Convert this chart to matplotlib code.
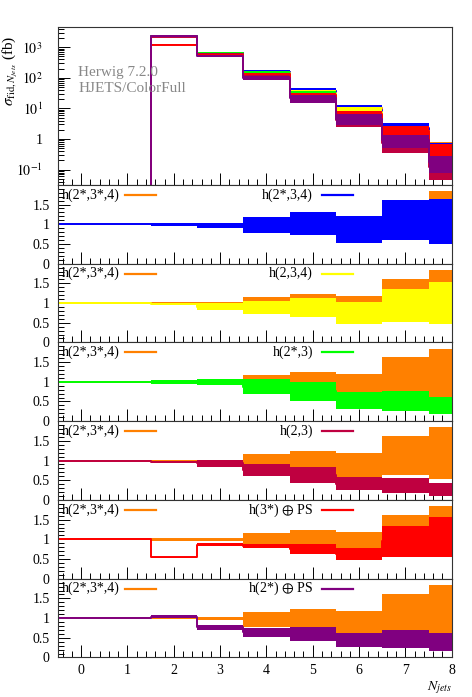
import numpy as np
import matplotlib
matplotlib.use('Agg')
import matplotlib.pyplot as plt
from matplotlib.ticker import MultipleLocator, LogLocator, NullFormatter

plt.rcParams['font.family'] = ['Liberation Serif', 'DejaVu Serif']
plt.rcParams['mathtext.fontset'] = 'stix'

# bin edges in N_jets (last bin is cut by the x range)
edges = [-0.5, 0.5, 1.5, 2.5, 3.5, 4.5, 5.5, 6.5, 7.5, 8.5]
xticks = [0, 1, 2, 3, 4, 5, 6, 7, 8]

# reference prediction h(2*,3*,4), cross section in fb
ref_label = 'h(2*,3*,4)'
ref_color = '#ff8000'
ref_xsec = [0, 0, 2250, 660, 157, 36, 10.5, 2.0, 0.45]
ref_lo = [1, 1, 0.97, 0.95, 0.77, 0.74, 0.56, 0.645, 0.54]
ref_hi = [1, 1, 1.02, 1.02, 1.16, 1.24, 1.19, 1.62, 1.84]

# other predictions, given as ratio bands to the reference
labels = ['h(2*,3,4)', 'h(2,3,4)', 'h(2*,3)', 'h(2,3)',
          r'h(3*) $\oplus$ PS', r'h(2*) $\oplus$ PS']
colors = ['#0000ff', '#ffff00', '#00ff00', '#bf0040', '#ff0000', '#800080']

blue_lo = [1, 1, 0.95, 0.90, 0.79, 0.72, 0.515, 0.60, 0.51]
blue_hi = [1, 1, 1.04, 1.04, 1.18, 1.31, 1.20, 1.62, 1.645]
yellow_lo = [1, 1, 0.94, 0.83, 0.73, 0.64, 0.47, 0.52, 0.47]
yellow_hi = [1, 1, 0.99, 0.99, 1.05, 1.13, 1.03, 1.36, 1.54]
green_lo = [1, 1, 0.95, 0.91, 0.69, 0.52, 0.31, 0.26, 0.17]
green_hi = [1, 1, 1.05, 1.075, 1.065, 1.0, 0.745, 0.77, 0.61]
crimson_lo = [1, 1, 0.93, 0.84, 0.62, 0.44, 0.24, 0.18, 0.10]
crimson_hi = [1, 1, 1.0, 1.015, 0.92, 0.83, 0.585, 0.56, 0.425]
red_lo = [1, 1, 0.52, 0.83, 0.79, 0.635, 0.485, 0.56, 0.56]
red_hi = [1, 1, 0.56, 0.90, 0.89, 0.89, 0.79, 1.33, 1.56]
purple_lo = [1, 1, 0.99, 0.71, 0.53, 0.43, 0.27, 0.25, 0.17]
purple_hi = [1, 1, 1.08, 0.83, 0.755, 0.77, 0.61, 0.70, 0.61]

lows = [blue_lo, yellow_lo, green_lo, crimson_lo, red_lo, purple_lo]
highs = [blue_hi, yellow_hi, green_hi, crimson_hi, red_hi, purple_hi]


def ext(vals):
    # repeat last value so step='post' covers the last bin
    vals = np.asarray(vals, dtype=float)
    return np.append(vals, vals[-1])


def draw_band(ax, lo, hi, mid, color, z, floor=None):
    lo, hi, mid = ext(lo), ext(hi), ext(mid)
    if floor is not None:
        lo = np.maximum(lo, floor)
        hi = np.maximum(hi, floor)
        mid = np.maximum(mid, floor)
    ax.fill_between(edges, lo, hi, step='post', color=color, lw=0, zorder=z)
    ax.step(edges, mid, where='post', color=color, lw=1.4, zorder=z + 0.5)


def style_axis(ax):
    ax.set_xlim(-0.5, 8)
    ax.xaxis.set_major_locator(MultipleLocator(1))
    ax.xaxis.set_minor_locator(MultipleLocator(0.2))
    ax.tick_params(which='both', direction='in', top=False, right=False,
                   width=0.7, labelsize=10)
    ax.tick_params(which='major', length=8.5)
    ax.tick_params(which='minor', length=4)
    for sp in ax.spines.values():
        sp.set_linewidth(0.8)
        sp.set_color('#333333')
        sp.set_zorder(20)


def make_plot():
    fig = plt.figure(figsize=(4.72, 6.97), dpi=100)
    gs = fig.add_gridspec(7, 1, height_ratios=[2, 1, 1, 1, 1, 1, 1], hspace=0,
                          left=0.1229, right=0.957, bottom=0.0567, top=0.9608)
    axes = [fig.add_subplot(gs[0])]
    for i in range(1, 7):
        axes.append(fig.add_subplot(gs[i], sharex=axes[0]))

    ref = np.asarray(ref_xsec, dtype=float)

    # ---------------------------------------------------------
    # main panel: cross sections
    # ---------------------------------------------------------
    ax = axes[0]
    draw_band(ax, ref * np.array(ref_lo), ref * np.array(ref_hi), ref,
              ref_color, 2, floor=1e-6)
    for k, (lo, hi, col) in enumerate(zip(lows, highs, colors)):
        lo = np.array(lo)
        hi = np.array(hi)
        mid = 0.5 * (lo + hi)
        draw_band(ax, ref * lo, ref * hi, ref * mid, col, 3 + k, floor=1e-6)
    ax.set_yscale('log')
    ax.set_ylim(0.032, 4450)
    ax.set_yticks([0.1, 1, 10, 100, 1000])
    ax.set_yticklabels([r'$10^{-1}$', '1', r'$10^{1}$', r'$10^{2}$', r'$10^{3}$'])
    ax.yaxis.set_minor_locator(LogLocator(base=10, subs=range(2, 10), numticks=20))
    ax.yaxis.set_minor_formatter(NullFormatter())
    style_axis(ax)
    ax.tick_params(axis='y', pad=11)
    ax.tick_params(axis='x', labelbottom=False)
    ax.text(0.051, 0.714, 'Herwig 7.2.0', transform=ax.transAxes,
            color='#888888', fontsize=11, va='center', ha='left', zorder=30)
    ax.text(0.051, 0.613, 'HJETS/ColorFull', transform=ax.transAxes,
            color='#888888', fontsize=11, va='center', ha='left', zorder=30)
    fig.text(0.022, 1 - 36 / 697, r'$\sigma_{\mathrm{fid},N_{jets}}$ (fb)',
             rotation=90, ha='center', va='top', fontsize=11)

    # ---------------------------------------------------------
    # ratio panels
    # ---------------------------------------------------------
    for i, (lo, hi, col, lab) in enumerate(zip(lows, highs, colors, labels)):
        ax = axes[i + 1]
        lo = np.array(lo)
        hi = np.array(hi)
        draw_band(ax, ref_lo, ref_hi, np.ones(len(ref_lo)), ref_color, 2)
        draw_band(ax, lo, hi, 0.5 * (lo + hi), col, 3)
        ax.set_ylim(0, 2)
        ax.set_yticks([0, 0.5, 1, 1.5])
        ax.set_yticklabels(['0', '0.5', '1', '1.5'])
        ax.yaxis.set_minor_locator(MultipleLocator(0.1))
        style_axis(ax)
        ax.tick_params(axis='y', pad=6)

        ty = 0.873
        ax.text(0.009, ty, ref_label, transform=ax.transAxes, fontsize=10,
                ha='left', va='center', zorder=30)
        ax.plot([0.170, 0.249], [ty, ty], transform=ax.transAxes,
                color=ref_color, lw=1.6, zorder=30)
        ax.text(0.648, ty, lab, transform=ax.transAxes, fontsize=10,
                ha='right', va='center', zorder=30)
        ax.plot([0.671, 0.749], [ty, ty], transform=ax.transAxes,
                color=col, lw=1.6, zorder=30)
        if i < 5:
            ax.tick_params(axis='x', labelbottom=False)
        else:
            ax.set_xticks(xticks)
            ax.tick_params(axis='x', pad=5)

    fig.text(0.957, 1 - 679 / 697, r'$N_{jets}$', ha='right', va='top',
             fontsize=10)

    fig.savefig('out.png', dpi=100)
    plt.close(fig)


if __name__ == "__main__":
    make_plot()
